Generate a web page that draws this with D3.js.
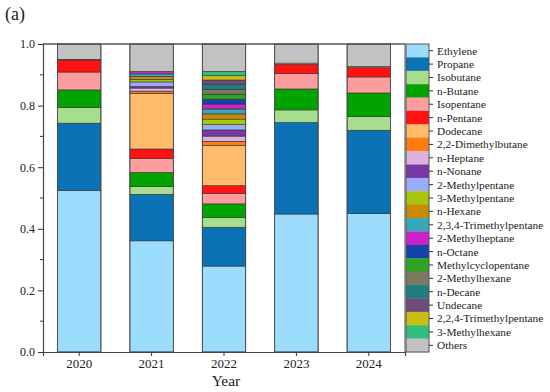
<!DOCTYPE html>
<html><head><meta charset="utf-8">
<script src="https://cdn.jsdelivr.net/npm/d3@7"></script>
<style>body{margin:0;background:#fff;} svg{display:block;font-family:"Liberation Serif","Times New Roman",serif;}</style>
</head><body>
<svg id="c" width="550" height="392"></svg>
<script>
const years = ["2020","2021","2022","2023","2024"];
const seriesNames = ["Ethylene","Propane","Isobutane","n-Butane","Isopentane","n-Pentane","Dodecane","2,2-Dimethylbutane","n-Heptane","n-Nonane","2-Methylpentane","3-Methylpentane","n-Hexane","2,3,4-Trimethylpentane","2-Methylheptane","n-Octane","Methylcyclopentane","2-Methylhexane","n-Decane","Undecane","2,2,4-Trimethylpentane","3-Methylhexane","Others"];
const seriesColors = ["#9cdcfc","#0b72b6","#a6de8e","#00a300","#fe9d9d","#fe1212","#ffbd6b","#fe7c12","#dcb2dc","#7838a6","#9aacfa","#a9c50c","#c98a06","#35aab5","#cc22c8","#1443ac","#2fa424","#7a7a62","#1d7f80","#6e4c7a","#c8bd10","#30be7a","#c2c2c2"];
// values per year, in series order (bottom to top)
const v2020 = [0.525,0.218,0.051,0.057,0.058,0.039,0.002,0,0,0,0,0,0,0,0,0,0,0,0,0,0,0,0.050];
const v2021 = [0.361,0.151,0.025,0.046,0.045,0.031,0.181,0.007,0.010,0.005,0.015,0.008,0.010,0.008,0.008,0,0,0,0,0,0,0,0.089];
const v2022 = [0.279,0.126,0.031,0.045,0.034,0.025,0.131,0.013,0.017,0.020,0.017,0.018,0.017,0.016,0.016,0.016,0.016,0.015,0.016,0.015,0.014,0.014,0.089];
const v2023 = [0.448,0.297,0.041,0.068,0.050,0.030,0.004,0,0,0,0,0,0,0,0,0,0,0,0,0,0,0,0.062];
const v2024 = [0.450,0.270,0.044,0.077,0.052,0.030,0.004,0,0,0,0,0,0,0,0,0,0,0,0,0,0,0,0.073];
const yTicks = [0,0.2,0.4,0.6,0.8,1.0];

const valuesByYear = [v2020,v2021,v2022,v2023,v2024];
const rows = years.map((y,i)=>{const o={year:y}; seriesNames.forEach((s,j)=>o[s]=valuesByYear[i][j]); return o;});
const stacked = d3.stack().keys(seriesNames)(rows);

const svg = d3.select("#c");
const L=43,R=405,T=44,B=352;
const x = d3.scaleBand().domain(years).range([L,R]).paddingInner(0.4).paddingOuter(0.2);
const y = d3.scaleLinear().domain([0,1]).range([B,T]);
const color = d3.scaleOrdinal().domain(seriesNames).range(seriesColors);

const g = svg.append("g");
stacked.forEach(layer=>{
  g.selectAll(null).data(layer.filter(d=>d[1]-d[0]>0)).enter().append("rect")
    .attr("x",d=>x(d.data.year)).attr("width",x.bandwidth())
    .attr("y",d=>y(d[1])).attr("height",d=>y(d[0])-y(d[1]))
    .attr("fill",color(layer.key)).attr("stroke","#333").attr("stroke-width",0.6);
});
g.selectAll(null).data(years).enter().append("rect")
  .attr("x",d=>x(d)).attr("width",x.bandwidth()).attr("y",y(1)).attr("height",y(0)-y(1))
  .attr("fill","none").attr("stroke","#444").attr("stroke-width",0.8);

const yAxis = d3.axisLeft(y).tickValues(yTicks).tickFormat(d3.format(".1f")).tickSize(5).tickPadding(3);
const ya = svg.append("g").attr("transform",`translate(${L},0)`).call(yAxis);
ya.selectAll(".tick text").attr("font-size",12).attr("font-family","Liberation Serif").attr("fill","#222");
const minor = d3.range(0.1,1,0.2);
ya.selectAll(".minor").data(minor).enter().append("line").attr("x1",-3).attr("x2",0)
  .attr("y1",d=>y(d)).attr("y2",d=>y(d)).attr("stroke","#333");
const xAxis = d3.axisBottom(x).tickSize(4).tickPadding(3);
const xa = svg.append("g").attr("transform",`translate(0,${B})`).call(xAxis);
xa.selectAll(".tick text").attr("font-size",13).attr("font-family","Liberation Serif").attr("fill","#222");
[ya,xa].forEach(a=>{a.selectAll("path,line").attr("stroke","#333"); a.select(".domain").attr("stroke","#444").attr("stroke-width",1.2);});
svg.append("line").attr("x1",L).attr("x2",R).attr("y1",T).attr("y2",T).attr("stroke","#555").attr("stroke-width",1.5);
svg.append("line").attr("x1",R).attr("x2",R).attr("y1",T).attr("y2",B).attr("stroke","#555").attr("stroke-width",1);

svg.append("text").attr("x",226).attr("y",386).attr("text-anchor","middle").attr("font-size",15.5).attr("fill","#222").text("Year");
svg.append("text").attr("x",5).attr("y",20).attr("font-size",18).attr("fill","#222").text("(a)");

const lx=406, lw=23;
const ly = d3.scaleBand().domain(seriesNames).range([T,B]);
const lg = svg.append("g");
lg.selectAll("rect").data(seriesNames).enter().append("rect")
  .attr("x",lx).attr("width",lw).attr("y",d=>ly(d)).attr("height",ly.bandwidth()+0.3).attr("fill",d=>color(d));
lg.append("rect").attr("x",lx).attr("y",T).attr("width",lw).attr("height",B-T).attr("fill","none").attr("stroke","#555").attr("stroke-width",1);
lg.selectAll("line").data(seriesNames).enter().append("line")
  .attr("x1",lx+lw).attr("x2",lx+lw+4).attr("y1",d=>ly(d)+ly.bandwidth()/2).attr("y2",d=>ly(d)+ly.bandwidth()/2).attr("stroke","#333");
lg.selectAll("text").data(seriesNames).enter().append("text")
  .attr("x",lx+lw+8).attr("y",d=>ly(d)+ly.bandwidth()/2).attr("dy","0.35em")
  .attr("font-size",11.3).attr("fill","#222").text(d=>d);
</script>
</body></html>
